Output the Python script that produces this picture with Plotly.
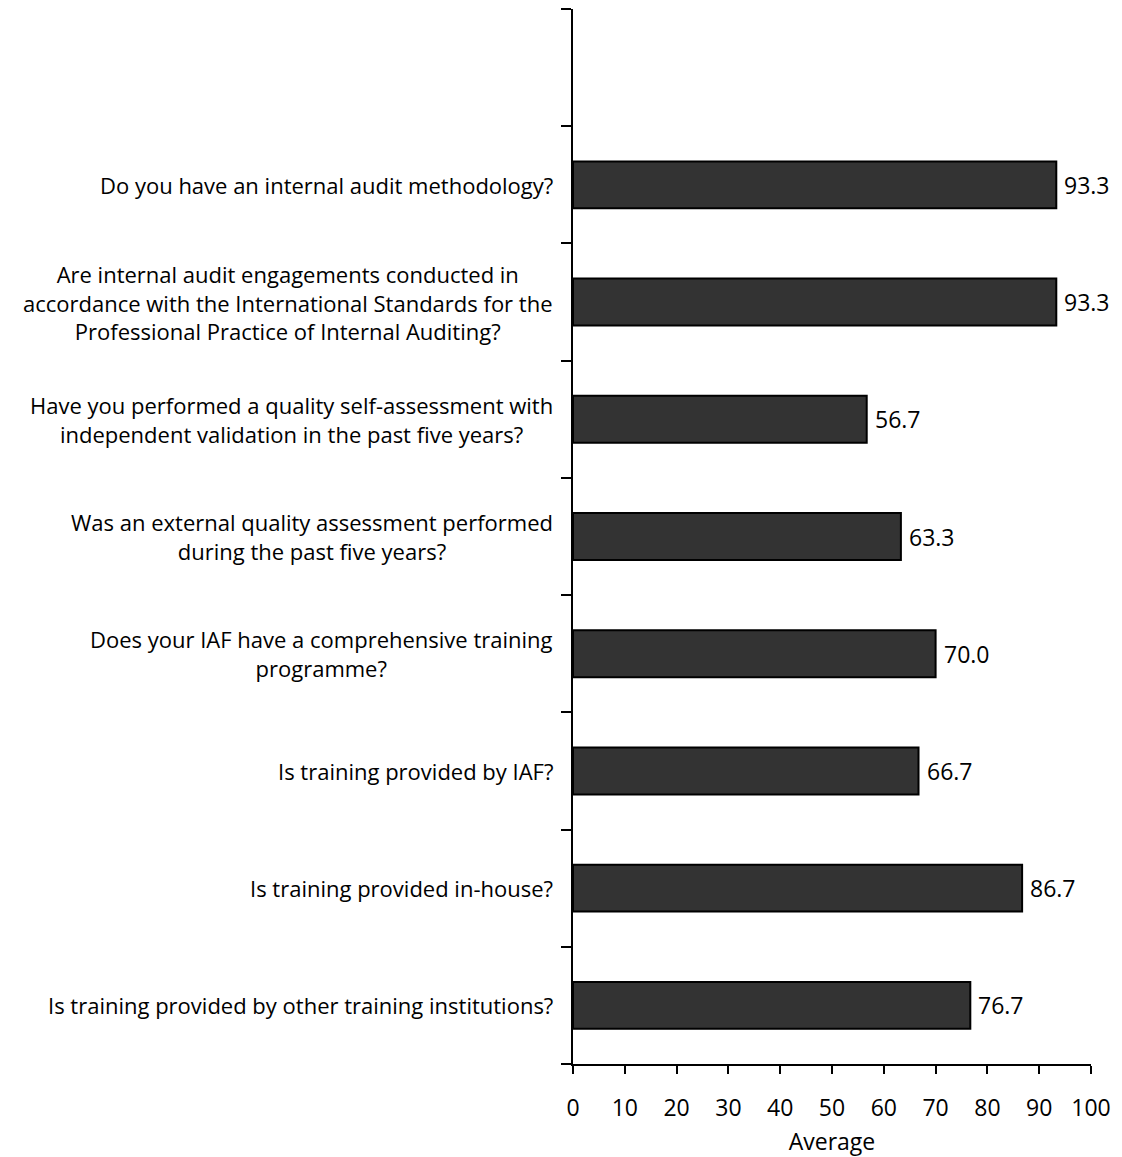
import plotly.graph_objects as go

questions = [
    "Do you have an internal audit methodology?",
    "Are internal audit engagements conducted in<br>accordance with the International Standards for the<br>Professional Practice of Internal Auditing?",
    "Have you performed a quality self-assessment with<br>independent validation in the past five years?",
    "Was an external quality assessment performed<br>during the past five years?",
    "Does your IAF have a comprehensive training<br>programme?",
    "Is training provided by IAF?",
    "Is training provided in-house?",
    "Is training provided by other training institutions?",
]
averages = [93.3, 93.3, 56.7, 63.3, 70.0, 66.7, 86.7, 76.7]
x_ticks = [0, 10, 20, 30, 40, 50, 60, 70, 80, 90, 100]

FONT = "Open Sans"
FS = 23
FS_Q = 22

# bottom-to-top order for the category axis, plus one empty slot at the top
order = list(reversed(questions)) + [" "]

fig = go.Figure()
fig.add_trace(go.Bar(
    y=questions,
    x=averages,
    orientation="h",
    width=0.4,
    marker=dict(color="#333333", line=dict(color="#000000", width=2)),
    showlegend=False,
))

for q in questions:
    fig.add_annotation(
        x=0, xref="paper", y=q, yref="y",
        text=q, showarrow=False,
        xanchor="right", yanchor="middle", align="center",
        xshift=-18,
        font=dict(family=FONT, size=FS_Q, color="#000000"),
    )

for q, v in zip(questions, averages):
    fig.add_annotation(
        x=v, xref="x", y=q, yref="y",
        text=f"{v:.1f}", showarrow=False,
        xanchor="left", yanchor="middle",
        xshift=6,
        font=dict(family=FONT, size=FS, color="#000000"),
    )

fig.update_layout(
    width=1122, height=1157,
    margin=dict(l=565, r=39, t=1, b=101),
    paper_bgcolor="white", plot_bgcolor="white",
    font=dict(family=FONT, size=FS, color="#000000"),
    bargap=0.6,
)
fig.update_xaxes(
    range=[0, 100], tickvals=x_ticks, ticktext=[str(t) for t in x_ticks],
    showgrid=False, zeroline=False,
    showline=True, linecolor="#000000", linewidth=2,
    ticks="outside", ticklen=8, tickwidth=2, tickcolor="#000000",
    ticklabelstandoff=14,
    title=dict(text="Average", standoff=12, font=dict(family=FONT, size=FS)),
)
fig.update_yaxes(
    type="category", categoryorder="array", categoryarray=order,
    range=[-0.5, 8.5], tickson="boundaries",
    showticklabels=False, showgrid=False, zeroline=False,
    showline=True, linecolor="#000000", linewidth=2,
    ticks="outside", ticklen=10, tickwidth=2, tickcolor="#000000",
)

fig.write_html("out.html")
